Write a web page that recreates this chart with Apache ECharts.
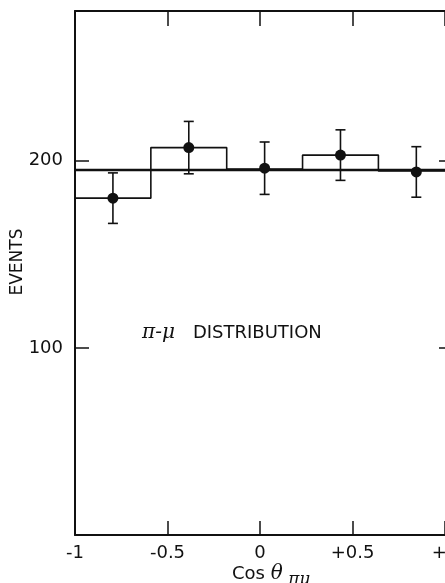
<!DOCTYPE html>
<html>
<head>
<meta charset="utf-8">
<script src="https://cdn.jsdelivr.net/npm/echarts@6/dist/echarts.min.js"></script>
<style>html,body{margin:0;padding:0;background:#fff;}#c{width:445px;height:583px;}</style>
</head>
<body>
<div id="c"></div>
<script>
// Data
var binEdges = [-1, -0.59, -0.18, 0.23, 0.64, 1.0];
var binCounts = [180, 207, 195.5, 203, 194.5];
var pointX = [-0.795, -0.385, 0.025, 0.435, 0.845];
var pointY = [180, 207, 196, 203, 194];
var pointErr = [13.5, 14, 14, 13.5, 13.5];
var fitLevel = 195;
var xTickLabels = {"-1": "-1", "-0.5": "-0.5", "0": "0", "0.5": "+0.5", "1": "+1"};
var yTickLabels = {"100": "100", "200": "200"};

var ink = '#111111';
var chart = echarts.init(document.getElementById('c'), null, {renderer: 'canvas'});

var stepPts = [];
for (var i = 0; i < binCounts.length; i++) {
  stepPts.push([binEdges[i], binCounts[i]]);
  stepPts.push([binEdges[i + 1], binCounts[i]]);
}
var pts = pointX.map(function (x, i) { return [x, pointY[i], pointErr[i]]; });

var font = 'DejaVu Sans';
chart.setOption({
  backgroundColor: '#fff',
  animation: false,
  grid: {left: 75, right: 0, top: 11, bottom: 48, containLabel: false, outerBoundsMode: 'none'},
  xAxis: [{
    type: 'value', min: -1, max: 1, interval: 0.5, position: 'bottom',
    axisLine: {onZero: false, lineStyle: {color: ink, width: 2}},
    axisTick: {inside: true, length: 14, lineStyle: {color: ink, width: 1.5}},
    splitLine: {show: false},
    axisLabel: {color: ink, fontFamily: font, fontSize: 18, margin: 9, hideOverlap: false,
      formatter: function (v) { return xTickLabels[String(v)] || ''; }}
  }, {
    type: 'value', min: -1, max: 1, interval: 0.5, position: 'top',
    axisLine: {onZero: false, lineStyle: {color: ink, width: 2}},
    axisTick: {inside: true, length: 15, lineStyle: {color: ink, width: 1.5}},
    splitLine: {show: false}, axisLabel: {show: false}
  }],
  yAxis: [{
    type: 'value', min: 0, max: 280, interval: 100, position: 'left',
    axisLine: {onZero: false, lineStyle: {color: ink, width: 2}},
    axisTick: {inside: true, length: 14, lineStyle: {color: ink, width: 1.5}},
    splitLine: {show: false},
    axisLabel: {color: ink, fontFamily: font, fontSize: 18, margin: 12,
      formatter: function (v) { return yTickLabels[String(v)] || ''; }}
  }, {
    type: 'value', min: 0, max: 280, interval: 100, position: 'right',
    axisLine: {show: false, onZero: false},
    axisTick: {show: true, inside: true, length: 6, lineStyle: {color: ink, width: 1.5}},
    splitLine: {show: false}, axisLabel: {show: false}
  }],
  graphic: [
    {type: 'text', x: 18, y: 262, rotation: Math.PI / 2,
      style: {text: 'EVENTS', font: '17px "DejaVu Sans"', fill: ink, textAlign: 'center', textVerticalAlign: 'middle'}},
    {type: 'text', x: 142, y: 333,
      style: {text: '{a|π-μ}{b|DISTRIBUTION}', textVerticalAlign: 'middle', fill: ink,
        rich: {a: {fontFamily: 'DejaVu Serif', fontStyle: 'italic', fontSize: 20, fill: ink, padding: [0, 18, 0, 0]},
               b: {fontFamily: font, fontSize: 18, fill: ink}}}},
    {type: 'text', x: 232, y: 574,
      style: {text: '{a|Cos }{t|θ}{s| πμ}', textVerticalAlign: 'middle', fill: ink,
        rich: {a: {fontFamily: font, fontSize: 18, fill: ink},
               t: {fontFamily: 'DejaVu Serif', fontStyle: 'italic', fontSize: 20, fill: ink},
               s: {fontFamily: 'DejaVu Serif', fontStyle: 'italic', fontSize: 17, fill: ink, padding: [11, 0, 0, 0]}}}}
  ],
  series: [
    {type: 'line', data: [[-1, fitLevel], [1, fitLevel]], symbol: 'none',
      lineStyle: {color: ink, width: 2.4}, z: 3},
    {type: 'line', data: stepPts, symbol: 'none',
      lineStyle: {color: ink, width: 1.6}, z: 3},
    {type: 'custom', z: 4,
      renderItem: function (params, api) {
        var x = api.value(0), y = api.value(1), e = api.value(2);
        var top = api.coord([x, y + e]);
        var bot = api.coord([x, y - e]);
        var cap = 5;
        var st = {stroke: ink, lineWidth: 1.6};
        return {type: 'group', children: [
          {type: 'line', shape: {x1: top[0], y1: top[1], x2: bot[0], y2: bot[1]}, style: st},
          {type: 'line', shape: {x1: top[0] - cap, y1: top[1], x2: top[0] + cap, y2: top[1]}, style: st},
          {type: 'line', shape: {x1: bot[0] - cap, y1: bot[1], x2: bot[0] + cap, y2: bot[1]}, style: st}
        ]};
      },
      data: pts},
    {type: 'scatter', data: pts.map(function (p) { return [p[0], p[1]]; }),
      symbol: 'circle', symbolSize: 11, itemStyle: {color: ink, opacity: 1}, z: 5}
  ]
});
</script>
</body>
</html>
